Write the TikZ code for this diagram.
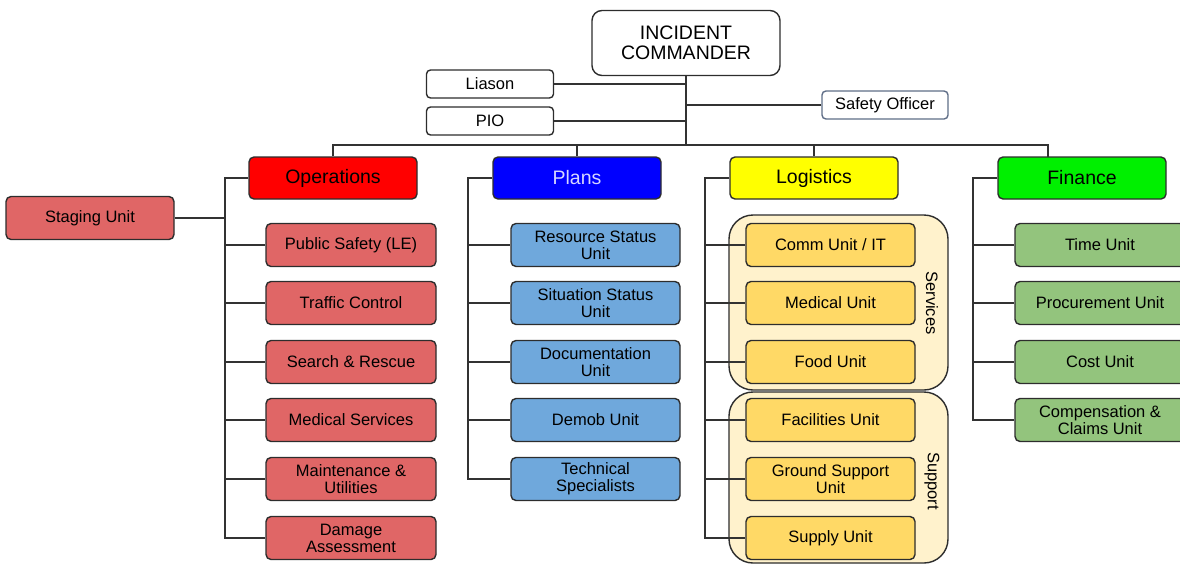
\documentclass[tikz,border=0pt]{standalone}
\usepackage{fontspec}
\setmainfont{Liberation Sans}
\usetikzlibrary{positioning}
\definecolor{boxLine}{RGB}{45, 45, 45}
\definecolor{linkGray}{RGB}{50, 50, 50}
\definecolor{safetyLine}{RGB}{95, 110, 135}
\definecolor{opsHead}{RGB}{255, 0, 0}
\definecolor{plansHead}{RGB}{0, 0, 255}
\definecolor{plansText}{RGB}{215, 215, 255}
\definecolor{logHead}{RGB}{255, 255, 0}
\definecolor{finHead}{RGB}{0, 240, 0}
\definecolor{opsUnit}{RGB}{224, 102, 102}
\definecolor{plansUnit}{RGB}{111, 168, 220}
\definecolor{logUnit}{RGB}{255, 217, 102}
\definecolor{finUnit}{RGB}{147, 196, 125}
\definecolor{groupFill}{RGB}{255, 242, 204}

\begin{document}
\begin{tikzpicture}[
    x = 1pt, y = -1pt,
    font = \fontsize{16.5}{17}\selectfont,
    box/.style = {draw=boxLine, line width=1.4pt, rounded corners=5pt,
        align=center, inner sep=1pt, minimum width=170pt, minimum height=43pt},
    head/.style = {box, font=\fontsize{19.5}{20}\selectfont,
        minimum width=168pt, minimum height=42pt},
    small/.style = {box, fill=white, minimum width=127pt, minimum height=28pt,
        rounded corners=4pt},
    group/.style = {draw=boxLine, line width=1.4pt, fill=groupFill,
        rounded corners=24pt},
    link/.style = {draw=linkGray, line width=1.6pt}
  ]
  \useasboundingbox (0,0) rectangle (1180,565);

  % command staff
  \node[box, fill=white, minimum width=188pt, minimum height=65pt,
      rounded corners=10pt, font=\fontsize{19.5}{20}\selectfont]
      (ic) at (686,43) {INCIDENT\\COMMANDER};
  \node[small] (liason) at (490,84) {Liason};
  \node[small] (pio) at (490,121) {PIO};
  \node[small, draw=safetyLine, minimum width=126pt] (safety) at (885,105) {Safety Officer};

  % sections
  \node[head, fill=opsHead] (ops) at (333,178) {Operations};
  \node[head, fill=plansHead, text=plansText] (plans) at (577,178) {Plans};
  \node[head, fill=logHead] (log) at (814,178) {Logistics};
  \node[head, fill=finHead] (fin) at (1082,178) {Finance};

  % logistics branches
  \draw[group] (729,215) rectangle (948,390);
  \draw[group] (729,392) rectangle (948,563);
  \node[rotate=-90] (services) at (932,303) {Services};
  \node[rotate=-90] (support) at (932,481) {Support};

  % units
  \node[box, fill=opsUnit, minimum width=168pt] (staging) at (90,218) {Staging Unit};
  \foreach \txt/\y [count=\i] in {Public Safety (LE)/245, Traffic Control/303,
      Search \& Rescue/362, Medical Services/420, {Maintenance \&\\Utilities}/479,
      {Damage\\Assessment}/538}
    \node[box, fill=opsUnit] (op\i) at (351,\y) {\txt};
  \foreach \txt/\y [count=\i] in {{Resource Status\\Unit}/245, {Situation Status\\Unit}/303,
      {Documentation\\Unit}/362, Demob Unit/420, {Technical\\Specialists}/479}
    \node[box, fill=plansUnit, minimum width=169pt] (pl\i) at (595.5,\y) {\txt};
  \foreach \txt/\y [count=\i] in {{Comm Unit / IT}/245, Medical Unit/303, Food Unit/362,
      Facilities Unit/420, {Ground Support\\Unit}/479, Supply Unit/538}
    \node[box, fill=logUnit, minimum width=169pt] (lg\i) at (830.5,\y) {\txt};
  \foreach \txt/\y [count=\i] in {Time Unit/245, Procurement Unit/303, Cost Unit/362,
      {Compensation \&\\Claims Unit}/420}
    \node[box, fill=finUnit] (fn\i) at (1100,\y) {\txt};

  % connectors
  \coordinate (hub) at (686,145);
  \coordinate (finTop) at (1048,157);
  \draw[link] (ic.south) -- (hub);
  \draw[link] (liason.east) -- (liason.east -| hub);
  \draw[link] (pio.east) -- (pio.east -| hub);
  \draw[link] (safety.west) -- (safety.west -| hub);
  \draw[link] (ops.north) |- (hub) -| (finTop);
  \draw[link] (plans.north) -- (plans.north |- hub);
  \draw[link] (log.north) -- (log.north |- hub);

  \coordinate (opsSpine) at (225,0);
  \coordinate (plansSpine) at (468,0);
  \coordinate (logSpine) at (705,0);
  \coordinate (finSpine) at (973,0);
  \draw[link] (ops.west) -| (opsSpine |- op6.west) -- (op6.west);
  \draw[link] (staging.east) -- (staging.east -| opsSpine);
  \foreach \i in {1,...,5}
    \draw[link] (opsSpine |- op\i.west) -- (op\i.west);
  \draw[link] (plans.west) -| (plansSpine |- pl5.west) -- (pl5.west);
  \foreach \i in {1,...,4}
    \draw[link] (plansSpine |- pl\i.west) -- (pl\i.west);
  \draw[link] (log.west) -| (logSpine |- lg6.west) -- (lg6.west);
  \foreach \i in {1,...,5}
    \draw[link] (logSpine |- lg\i.west) -- (lg\i.west);
  \draw[link] (fin.west) -| (finSpine |- fn4.west) -- (fn4.west);
  \foreach \i in {1,...,3}
    \draw[link] (finSpine |- fn\i.west) -- (fn\i.west);
\end{tikzpicture}
\end{document}
